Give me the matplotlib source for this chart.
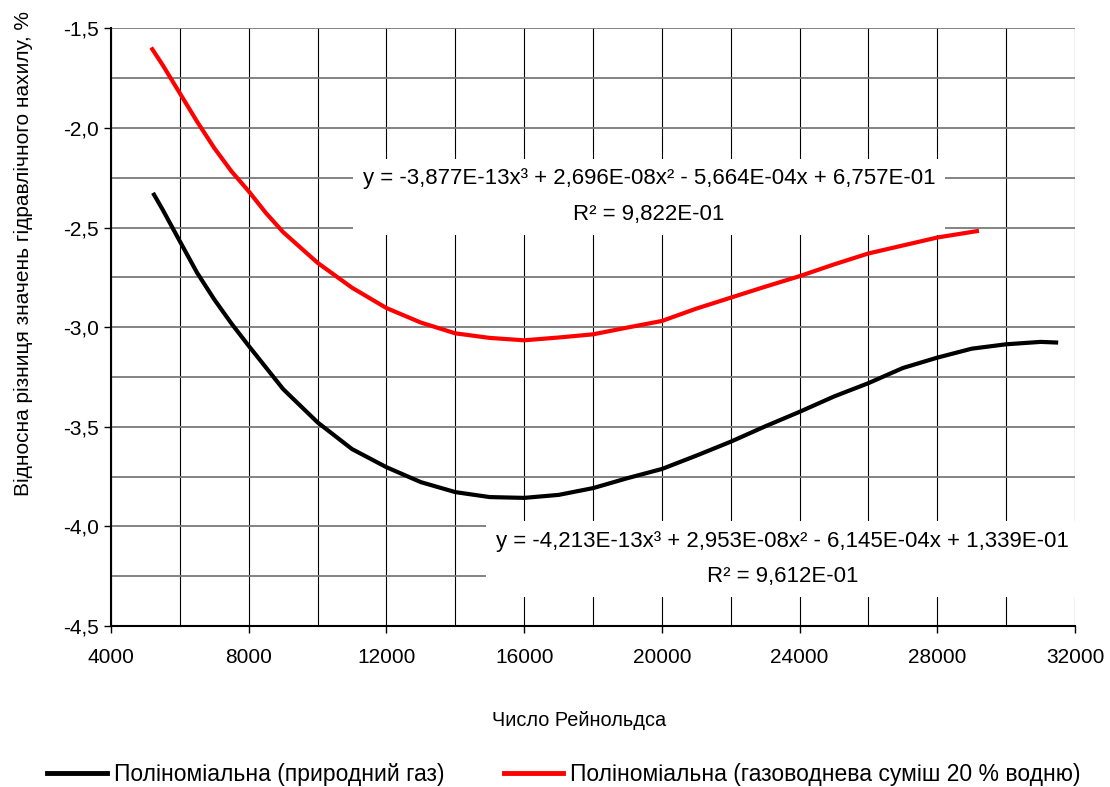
import numpy as np
import matplotlib
matplotlib.use("Agg")
import matplotlib.pyplot as plt
from matplotlib.ticker import MultipleLocator, FuncFormatter
from matplotlib.lines import Line2D

plt.rcParams['font.family'] = ['Liberation Sans', 'DejaVu Sans']

# Reynolds number values
re_gas = [5250, 5500, 6000, 6500, 7000, 7500, 8000, 9000, 10000, 11000, 12000,
          13000, 14000, 15000, 16000, 17000, 18000, 19000, 20000, 21000, 22000,
          23000, 24000, 25000, 26000, 27000, 28000, 29000, 30000, 31000, 31450]
dev_gas = [-2.335, -2.41, -2.569, -2.727, -2.861, -2.982, -3.094, -3.311, -3.478,
           -3.612, -3.703, -3.778, -3.828, -3.853, -3.857, -3.842, -3.808, -3.758,
           -3.712, -3.645, -3.575, -3.498, -3.425, -3.348, -3.281, -3.205, -3.153,
           -3.108, -3.086, -3.074, -3.077]

re_h2 = [5200, 5500, 6000, 6500, 7000, 7500, 8000, 8500, 9000, 10000, 11000, 12000,
         13000, 14000, 15000, 16000, 17000, 18000, 19000, 20000, 21000, 22000,
         23000, 24000, 25000, 26000, 27000, 28000, 29150]
dev_h2 = [-1.605, -1.684, -1.826, -1.968, -2.101, -2.218, -2.318, -2.427, -2.523,
          -2.677, -2.802, -2.904, -2.977, -3.031, -3.054, -3.066, -3.052, -3.036,
          -3.002, -2.969, -2.907, -2.852, -2.797, -2.744, -2.685, -2.63, -2.59,
          -2.55, -2.518]

label_gas = "Поліноміальна (природний газ)"
label_h2 = "Поліноміальна (газоводнева суміш 20 % водню)"
eq_gas = "y = -4,213E-13x³ + 2,953E-08x² - 6,145E-04x + 1,339E-01\nR² = 9,612E-01"
eq_h2 = "y = -3,877E-13x³ + 2,696E-08x² - 5,664E-04x + 6,757E-01\nR² = 9,822E-01"

fig = plt.figure(figsize=(11.1, 7.87), dpi=100)
ax = fig.add_axes([0.1, 0.2046, 0.8685, 0.7594])

ax.set_xlim(4000, 32000)
ax.set_ylim(-4.5, -1.5)
ax.xaxis.set_major_locator(MultipleLocator(4000))
ax.xaxis.set_minor_locator(MultipleLocator(2000))
ax.yaxis.set_major_locator(MultipleLocator(0.5))
ax.yaxis.set_minor_locator(MultipleLocator(0.25))
ax.yaxis.set_major_formatter(FuncFormatter(lambda v, p: f"{v:.1f}".replace('.', ',')))

ax.grid(True, axis='y', which='both', color='#7a7a7a', lw=1.3, zorder=0)
ax.grid(True, axis='x', which='both', color='black', lw=0.8, zorder=0)
ax.set_axisbelow(True)
ax.tick_params(which='major', direction='out', length=5, width=1, labelsize=15, pad=4)
ax.tick_params(axis='x', which='major', pad=11)
ax.tick_params(which='minor', length=0)
for s in ['top', 'right']:
    ax.spines[s].set_visible(False)
for s in ['left', 'bottom']:
    ax.spines[s].set_linewidth(1.5)

ax.plot(re_gas, dev_gas, color='black', lw=3, zorder=5)
ax.plot(re_h2, dev_h2, color='#ff0000', lw=3, zorder=5)

# trendline equation labels with white background
ax.text(19630, -2.345, eq_h2, ha='center', va='center', fontsize=16,
        linespacing=1.9, zorder=3,
        bbox=dict(facecolor='white', edgecolor='none', pad=7))
ax.text(23500, -4.165, eq_gas, ha='center', va='center', fontsize=16,
        linespacing=1.9, zorder=3,
        bbox=dict(facecolor='white', edgecolor='none', pad=7))

fig.text(0.5216, 1 - 720 / 787, "Число Рейнольдса", ha='center', va='center', fontsize=14.3)
fig.text(0.021, 1 - 253 / 787, "Відносна різниця значень гідравлічного нахилу, %",
         rotation=90, ha='center', va='center', fontsize=15)

handles = [Line2D([], [], color='black', lw=3.5), Line2D([], [], color='#ff0000', lw=3.5)]
fig.legend(handles, [label_gas, label_h2], loc='center', ncol=2, frameon=False,
           bbox_to_anchor=(0.508, 1 - 775 / 787), fontsize=16.5, handlelength=2.6,
           handletextpad=0.3, columnspacing=2.6)

fig.savefig("out.png", dpi=100)
